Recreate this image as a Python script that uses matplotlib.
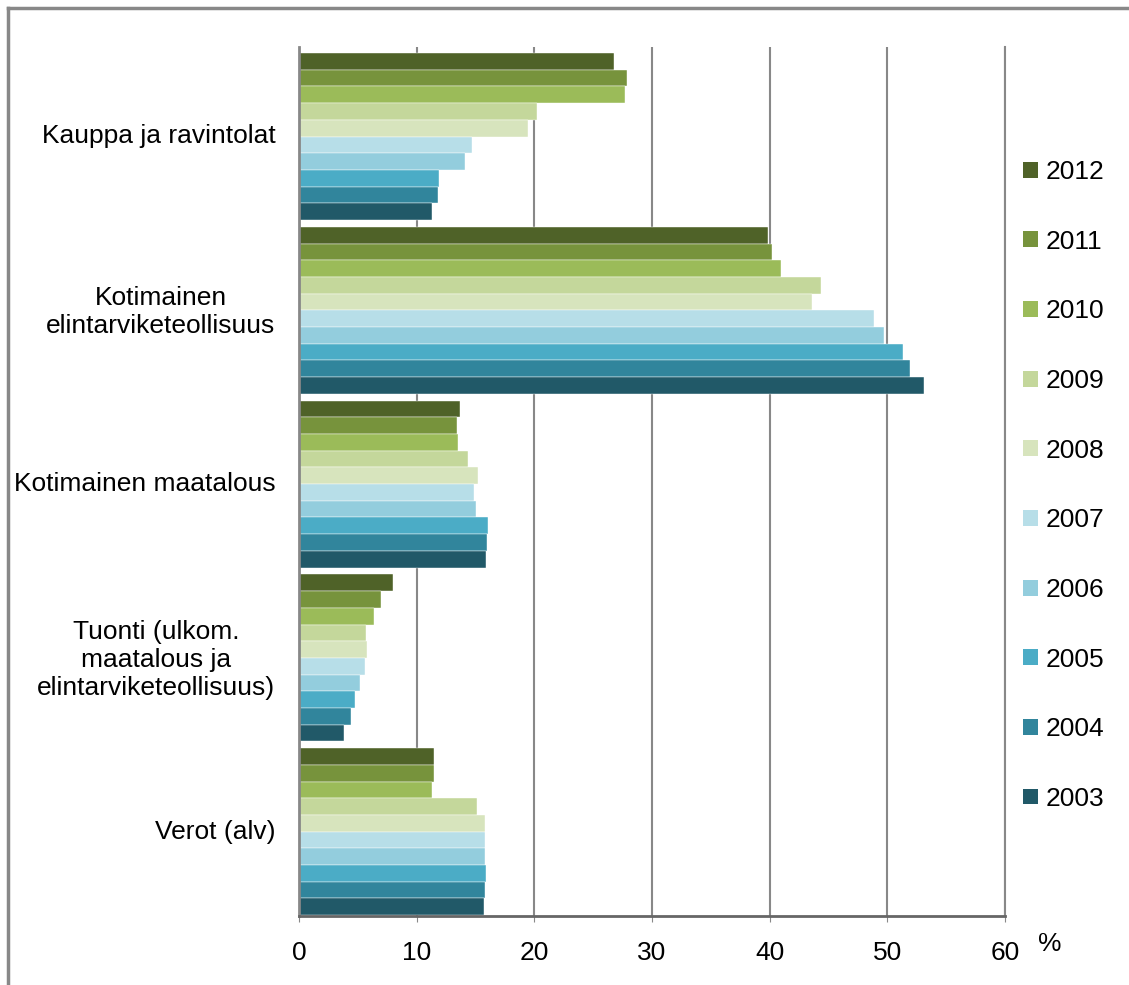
import numpy as np
import matplotlib
matplotlib.use("Agg")
import matplotlib.pyplot as plt
from matplotlib.patches import Patch
from matplotlib.lines import Line2D

plt.rcParams['font.family'] = ['Liberation Sans', 'DejaVu Sans']

categories = ["Kauppa ja ravintolat",
              "Kotimainen\nelintarviketeollisuus",
              "Kotimainen maatalous",
              "Tuonti (ulkom.\nmaatalous ja\nelintarviketeollisuus)",
              "Verot (alv)"]
years = ["2012", "2011", "2010", "2009", "2008", "2007", "2006", "2005", "2004", "2003"]
colors = ["#4F6228", "#77933C", "#9BBB59", "#C4D79B", "#D7E4BD",
          "#B7DEE8", "#93CDDD", "#4BACC6", "#31859C", "#215968"]

# values per year, one per category (same order as categories)
v2012 = [26.8, 39.9, 13.7, 8.0, 11.5]
v2011 = [27.9, 40.2, 13.4, 7.0, 11.5]
v2010 = [27.7, 41.0, 13.5, 6.4, 11.3]
v2009 = [20.2, 44.4, 14.4, 5.7, 15.1]
v2008 = [19.5, 43.6, 15.2, 5.8, 15.8]
v2007 = [14.7, 48.9, 14.9, 5.6, 15.8]
v2006 = [14.1, 49.7, 15.0, 5.2, 15.8]
v2005 = [11.9, 51.3, 16.1, 4.8, 15.85]
v2004 = [11.8, 51.9, 16.0, 4.4, 15.8]
v2003 = [11.3, 53.1, 15.85, 3.8, 15.7]
values = [v2012, v2011, v2010, v2009, v2008, v2007, v2006, v2005, v2004, v2003]

fig = plt.figure(figsize=(11.29, 9.85), dpi=100)
ax = fig.add_axes([299/1129, 1-916/985, (1005-299)/1129, (916-47)/985])

h = 0.096
y = np.arange(len(categories))
for j, (yr, vals, c) in enumerate(zip(years, values, colors)):
    ax.barh(y + (j - 4.5) * h + 0.015, vals, height=h, color=c, zorder=2,
            edgecolor='white', linewidth=0.3, label=yr)

ax.set_xlim(0, 60)
ax.set_ylim(4.5, -0.5)
ax.set_xticks(range(0, 61, 10))
ax.set_yticks(y)
ax.set_yticklabels(categories, multialignment='center')
ax.tick_params(axis='y', length=0, pad=17, labelsize=19)
ax.tick_params(axis='x', length=4, pad=14, labelsize=19, color='#888888')
ax.grid(axis='x', color='#888888', linewidth=1.5, zorder=1)
ax.spines['top'].set_visible(False)
ax.spines['left'].set_color('#888888')
ax.spines['left'].set_linewidth(2)
ax.spines['bottom'].set_color('#666666')
ax.spines['bottom'].set_linewidth(2)
ax.spines['right'].set_color('#888888')
ax.spines['right'].set_linewidth(1.5)

fig.text(1038/1129, 1-944/985, "%", fontsize=19, va='center', ha='left')

handles = [Patch(facecolor=c, label=yr) for yr, c in zip(years, colors)]
fig.legend(handles=handles, loc='upper left', bbox_to_anchor=(1023/1129, 1-160/985),
           frameon=False, fontsize=19, handlelength=0.55, handleheight=0.55,
           handletextpad=0.3, labelspacing=1.73, borderaxespad=0, borderpad=0)

# outer border (left and top only visible)
fig.add_artist(Line2D([7.5/1129, 7.5/1129], [0, 1-7.5/985], color='#888888', linewidth=2.5))
fig.add_artist(Line2D([7.5/1129, 1], [1-7.5/985, 1-7.5/985], color='#888888', linewidth=2.5))

fig.savefig("out.png", dpi=100)
